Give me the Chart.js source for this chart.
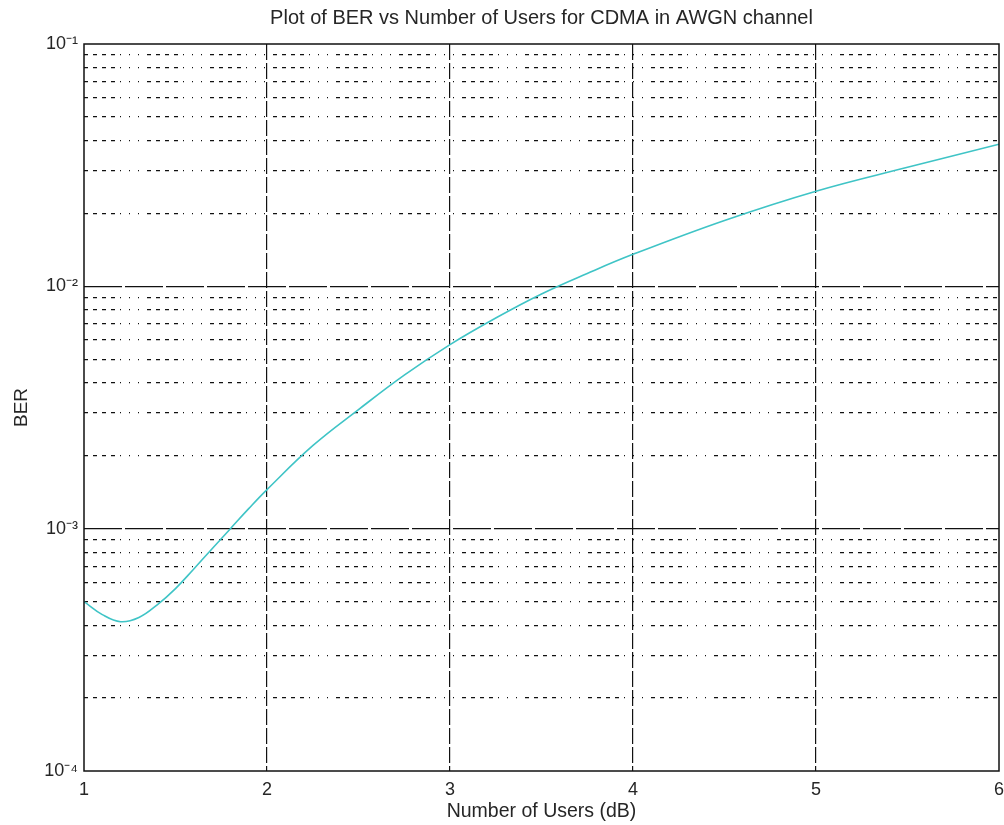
<!DOCTYPE html>
<html>
<head>
<meta charset="utf-8">
<script src="https://cdn.jsdelivr.net/npm/chart.js@4/dist/chart.umd.min.js"></script>
<style>
  html, body { margin: 0; padding: 0; background: #fff; }
  #wrap { width: 1004px; height: 825px; }
</style>
</head>
<body>
<div id="wrap"><canvas id="ber-chart"></canvas></div>
<script>
  // values
  const USERS = [1, 1.1, 1.2, 1.3, 1.4, 1.5, 1.6, 1.7, 1.8, 1.9, 2, 2.25, 2.5, 2.75, 3, 3.25, 3.5, 3.75, 4, 4.5, 5, 5.5, 6];
  const BER = [5.0e-4, 4.42e-4, 4.13e-4, 4.3e-4, 4.85e-4, 5.66e-4, 6.82e-4, 8.26e-4, 1.0e-3, 1.21e-3, 1.45e-3,
    2.2e-3, 3.1e-3, 4.3e-3, 5.75e-3, 7.4e-3, 9.3e-3, 1.13e-2, 1.355e-2, 1.87e-2, 2.47e-2, 3.1e-2, 3.86e-2];
  const X_TICKS = [1, 2, 3, 4, 5, 6];
  const Y_DECADES = [-4, -3, -2, -1];
  const Y_MANTISSAS = [1, 2, 3, 4, 5, 6, 7, 8, 9];
  const TITLE = "Plot of BER vs Number of Users for CDMA in AWGN channel";

  const SUP = { "-": "\u207B", "0": "\u2070", "1": "\u00B9", "2": "\u00B2", "3": "\u00B3", "4": "\u2074" };
  const FONT = "'Liberation Sans', Arial, sans-serif";
  const TEXT = "#262626";

  function decadeOf(v) {
    const e = Math.log10(v);
    return Math.abs(e - Math.round(e)) < 1e-6 ? Math.round(e) : null;
  }

  const H_MAJOR_DASH = [38, 3];
  const V_MAJOR_DASH = [16, 3];
  const MINOR_DASH = [4, 5, 4, 5, 4, 5, 4, 5, 1, 8, 1, 8, 1, 8];

  // box round the axes, and the title centred over the plot area (as matlab does)
  const boxPlugin = {
    id: "box",
    afterDraw(chart) {
      const { ctx, chartArea: a } = chart;
      ctx.save();
      ctx.strokeStyle = "#111";
      ctx.lineWidth = 1.5;
      ctx.strokeRect(a.left, a.top, a.right - a.left, a.bottom - a.top);
      ctx.fillStyle = TEXT;
      ctx.font = "20px " + FONT;
      ctx.textAlign = "center";
      ctx.textBaseline = "middle";
      ctx.fillText(TITLE, (a.left + a.right) / 2, 18);
      ctx.restore();
    },
  };

  new Chart(document.getElementById("ber-chart"), {
    type: "line",
    data: {
      datasets: [{
        data: USERS.map((u, i) => ({ x: u, y: BER[i] })),
        borderColor: "#3fc4c6",
        borderWidth: 1.6,
        pointRadius: 0,
        tension: 0.4,
        fill: false,
      }],
    },
    options: {
      responsive: true,
      maintainAspectRatio: false,
      animation: false,
      layout: { padding: { top: 44, right: 5 } },
      plugins: {
        legend: { display: false },
        tooltip: { enabled: false },
        title: { display: false },
      },
      scales: {
        x: {
          type: "linear",
          min: 1,
          max: 6,
          afterBuildTicks: (s) => { s.ticks = X_TICKS.map((v) => ({ value: v })); },
          afterFit: (s) => { s.height = 54; s.paddingLeft = 0; s.paddingRight = 0; },
          ticks: { color: TEXT, font: { family: FONT, size: 18 }, padding: 8, maxRotation: 0 },
          grid: {
            drawTicks: false,
            color: "#111",
            lineWidth: (c) => (c.tick && (c.tick.value === 1 || c.tick.value === 6) ? 0 : 1.2),
          },
          border: { display: false, dash: V_MAJOR_DASH },
          title: {
            display: true,
            text: "Number of Users (dB)",
            color: TEXT,
            font: { family: FONT, size: 19.5 },
            padding: { top: 0, bottom: 2 },
          },
        },
        y: {
          type: "logarithmic",
          min: 1e-4,
          max: 1e-1,
          afterBuildTicks: (s) => {
            const ticks = [];
            for (let d = Y_DECADES[0]; d < Y_DECADES[Y_DECADES.length - 1]; d++) {
              Y_MANTISSAS.forEach((m) => ticks.push({ value: m * Math.pow(10, d) }));
            }
            ticks.push({ value: Math.pow(10, Y_DECADES[Y_DECADES.length - 1]) });
            s.ticks = ticks;
          },
          afterFit: (s) => { s.width = 84; s.paddingTop = 0; s.paddingBottom = 0; },
          ticks: {
            autoSkip: false,
            color: TEXT,
            font: { family: FONT, size: 18 },
            padding: 6,
            callback: (v) => {
              const d = decadeOf(v);
              if (d === null || !Y_DECADES.includes(d)) return "";
              return "10" + String(d).split("").map((ch) => SUP[ch]).join("");
            },
          },
          grid: {
            drawTicks: false,
            color: "#111",
            lineWidth: (c) => {
              if (!c.tick) return 1;
              const d = decadeOf(c.tick.value);
              if (d === -4 || d === -1) return 0;
              return 1.2;
            },
          },
          border: {
            display: false,
            dash: (c) => {
              if (!c.tick) return [];
              return decadeOf(c.tick.value) !== null ? H_MAJOR_DASH : MINOR_DASH;
            },
          },
          title: {
            display: true,
            text: "BER",
            color: TEXT,
            font: { family: FONT, size: 19 },
            padding: { top: 10, bottom: 0 },
          },
        },
      },
    },
    plugins: [boxPlugin],
  });
</script>
</body>
</html>
